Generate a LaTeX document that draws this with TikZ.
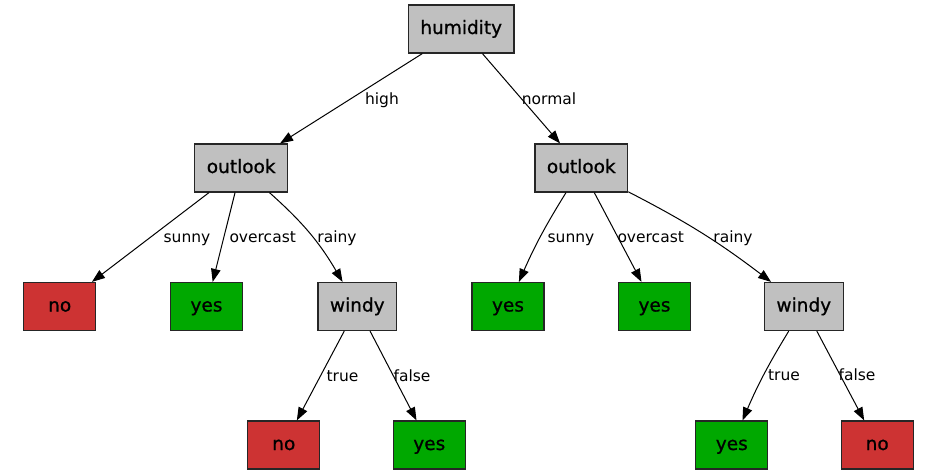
\documentclass[tikz,border=0pt]{standalone}
\usepackage{fontspec}
\setmainfont{DejaVu Sans}
\newfontfamily\nodefont[FakeBold=0.9]{DejaVu Sans}
\usetikzlibrary{arrows.meta}
\definecolor{attrgray}{HTML}{C0C0C0}
\definecolor{nored}{HTML}{CD3333}
\definecolor{yesgreen}{HTML}{00A800}
\newcommand{\unitsize}{1pt}

\begin{document}
\begin{tikzpicture}
\useasboundingbox (0,0) rectangle (937*\unitsize,-475*\unitsize);
\tikzstyle{box}=[draw=black!85,
			rectangle,
			line width=1.2*\unitsize,
			minimum width=72*\unitsize,
			minimum height=48*\unitsize,
			inner xsep=12*\unitsize,
			inner ysep=0pt,
			text height=14*\unitsize,
			text depth=4*\unitsize,
			font=\nodefont\fontsize{18.5}{20}\selectfont
			]
\tikzstyle{attr}=[box, fill=attrgray]
\tikzstyle{leafno}=[box, fill=nored]
\tikzstyle{leafyes}=[box, fill=yesgreen]
\tikzstyle{lbl}=[anchor=base, inner sep=0pt, font=\fontsize{15.5}{17}\selectfont]
\tikzstyle{edge}=[-{Triangle[length=13*\unitsize, width=9.5*\unitsize]}, line width=1*\unitsize, black]


\node[attr] (humidity) at (461.2*\unitsize,-29*\unitsize) {humidity};


\node[attr] (outlookA) at (241.2*\unitsize,-168*\unitsize) {outlook};


\node[attr] (outlookB) at (581.3*\unitsize,-168*\unitsize) {outlook};


\node[leafno] (noA) at (59.7*\unitsize,-306.5*\unitsize) {no};


\node[leafyes] (yesA) at (206.5*\unitsize,-306.5*\unitsize) {yes};


\node[attr] (windyA) at (357.3*\unitsize,-306.5*\unitsize) {windy};


\node[leafno] (noB) at (283.8*\unitsize,-445*\unitsize) {no};


\node[leafyes] (yesB) at (429.3*\unitsize,-445*\unitsize) {yes};


\node[leafyes] (yesC) at (508*\unitsize,-306.5*\unitsize) {yes};


\node[leafyes] (yesD) at (654.5*\unitsize,-306.5*\unitsize) {yes};


\node[attr] (windyB) at (803.8*\unitsize,-306.5*\unitsize) {windy};


\node[leafyes] (yesE) at (731.8*\unitsize,-445*\unitsize) {yes};


\node[leafno] (noC) at (877.2*\unitsize,-445*\unitsize) {no};


\draw[edge] (humidity) -- (outlookA);
\draw[edge] (humidity) -- (outlookB);
\draw[edge] (outlookA) -- (noA);
\draw[edge] (outlookA) -- (yesA);
\draw[edge] (outlookA) to[bend left=9] (windyA);
\draw[edge] (windyA) -- (noB);
\draw[edge] (windyA) -- (yesB);
\draw[edge] (outlookB) to[bend right=4] (yesC);
\draw[edge] (outlookB) -- (yesD);
\draw[edge] (outlookB) to[bend left=5] (windyB);
\draw[edge] (windyB) to[bend right=4] (yesE);
\draw[edge] (windyB) -- (noC);


\node[lbl] (high) at (382*\unitsize,-104*\unitsize) {high};
\node[lbl] (normal) at (549*\unitsize,-104*\unitsize) {normal};
\node[lbl] (sunnyA) at (187*\unitsize,-242.3*\unitsize) {sunny};
\node[lbl] (overcastA) at (262.7*\unitsize,-242.3*\unitsize) {overcast};
\node[lbl] (rainyA) at (337*\unitsize,-242.3*\unitsize) {rainy};
\node[lbl] (trueA) at (342.5*\unitsize,-381.3*\unitsize) {true};
\node[lbl] (falseA) at (412*\unitsize,-381.3*\unitsize) {false};
\node[lbl] (sunnyB) at (571*\unitsize,-242.3*\unitsize) {sunny};
\node[lbl] (overcastB) at (650.7*\unitsize,-242.3*\unitsize) {overcast};
\node[lbl] (rainyB) at (733*\unitsize,-242.3*\unitsize) {rainy};
\node[lbl] (trueB) at (784*\unitsize,-380.7*\unitsize) {true};
\node[lbl] (falseB) at (857*\unitsize,-380.7*\unitsize) {false};

\end{tikzpicture}
\end{document}
